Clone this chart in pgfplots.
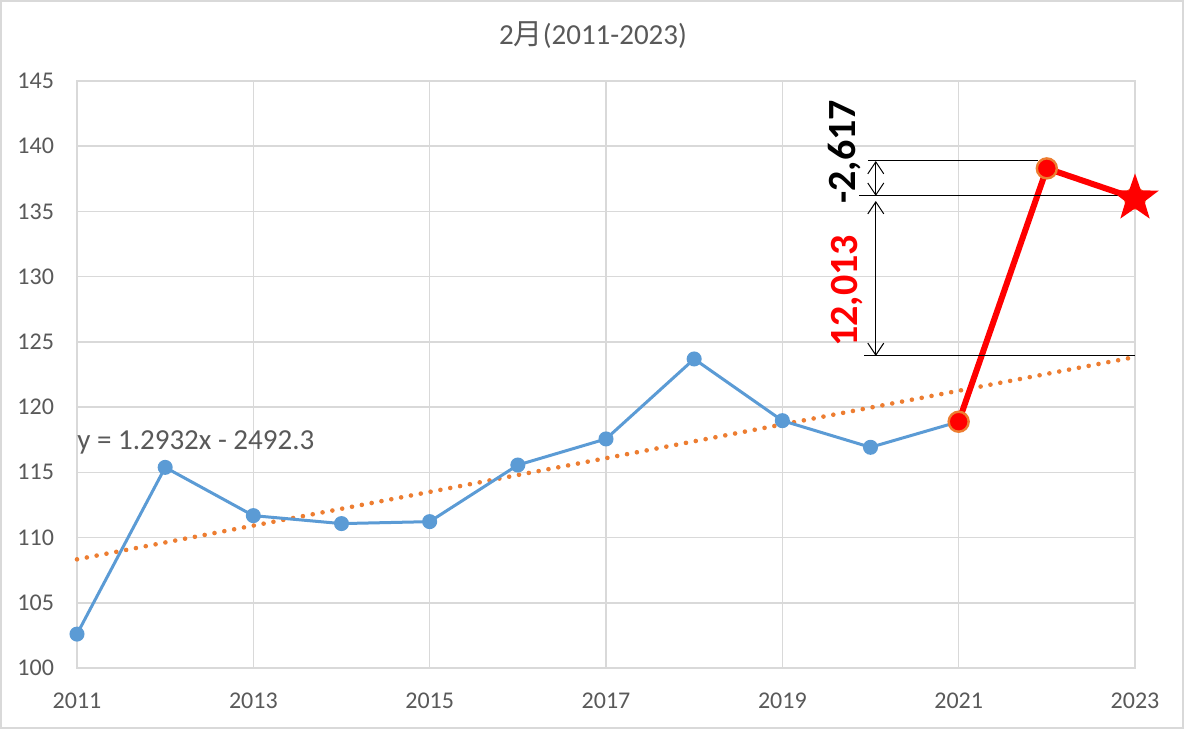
\documentclass[border=0pt]{standalone}
\usepackage{pgfplots}
\pgfplotsset{compat=1.18}
\usepackage{fontspec}
\setmainfont{Carlito}
\newfontfamily\cjk{Noto Sans CJK JP}
\usetikzlibrary{arrows.meta,shapes.geometric}
\definecolor{gridgray}{HTML}{D9D9D9}
\definecolor{txtgray}{HTML}{595959}
\definecolor{blueline}{HTML}{5B9BD5}
\definecolor{orangeline}{HTML}{ED7D31}
\pgfdeclareplotmark{fstar}{\node[star, star points=5, star point ratio=2.5, fill=red, draw=none, inner sep=0pt, minimum size=2*\pgfplotmarksize] {};}
\begin{document}
\begin{tikzpicture}
\useasboundingbox (0,0) rectangle (592pt,364.5pt);
\fill[white] (0,0) rectangle (592pt,364.5pt);
\draw[gridgray, line width=1pt] (0.5pt,0.5pt) rectangle (591.5pt,364pt);
\node[text=txtgray, font=\fontsize{14.5}{17}\selectfont] at (296.5pt,347pt) {2{\cjk 月}(2011-2023)};
\begin{axis}[
  at={(38.5pt,30.5pt)}, anchor=south west,
  scale only axis, width=529pt, height=293.5pt,
  xmin=2011, xmax=2023, ymin=100, ymax=145,
  xtick={2011,2013,...,2023},
  ytick={100,105,...,145},
  grid=major,
  grid style={gridgray, line width=0.75pt},
  axis line style={gridgray, line width=0.75pt},
  major tick length=0pt,
  tick label style={text=txtgray, font=\fontsize{12}{14}\selectfont},
  /pgf/number format/assume math mode=true,
  xticklabel style={/pgf/number format/1000 sep={}, yshift=-9pt},
  yticklabel style={xshift=-8pt},
  clip=false,
]
% trend line
\addplot[orangeline, line width=2.3pt, line cap=round, dash pattern=on 0pt off 5pt] coordinates {(2011,108.33) (2023,123.84)};
% blue series
\addplot[blueline, line width=1.5pt, mark=*, mark size=3pt, mark options={fill=blueline, draw=blueline}] coordinates {
(2011,102.6) (2012,115.38) (2013,111.68) (2014,111.07) (2015,111.22) (2016,115.56) (2017,117.56) (2018,123.69) (2019,118.96) (2020,116.92) (2021,118.88)};
% red series
\addplot[red, line width=3pt, mark=*, mark size=5pt, mark options={fill=red, draw=orangeline, line width=1.2pt}] coordinates {(2021,118.88) (2022,138.3) (2023,136.0)};
\addplot[only marks, mark=fstar, mark size=12.5pt] coordinates {(2023,136.0)};
% annotations
\draw[black, line width=0.5pt] (axis cs:2019.97,138.87) -- (axis cs:2021.9,138.87);
\draw[black, line width=0.5pt] (axis cs:2019.87,136.19) -- (axis cs:2023,136.19);
\draw[black, line width=0.5pt] (axis cs:2019.93,123.92) -- (axis cs:2023,123.92);
\draw[black, line width=0.5pt, {Straight Barb[length=6pt,width=8pt]}-{Straight Barb[length=6pt,width=8pt]}] (axis cs:2020.06,138.87) -- (axis cs:2020.06,136.19);
\draw[black, line width=0.5pt, {Straight Barb[length=6pt,width=8pt]}-{Straight Barb[length=6pt,width=8pt]}] (axis cs:2020.06,135.8) -- (axis cs:2020.06,123.92);
\node[rotate=90, text=black, font=\fontsize{20}{24}\selectfont\bfseries] at (axis cs:2019.71,139.56) {-2,617};
\node[rotate=90, text=red, font=\fontsize{20}{24}\selectfont\bfseries] at (axis cs:2019.74,128.9) {12,013};
\node[anchor=west, inner sep=0pt, text=txtgray, font=\fontsize{14.5}{17}\selectfont] at (axis cs:2011,117.3) {y = 1.2932x - 2492.3};
\end{axis}
\end{tikzpicture}
\end{document}
